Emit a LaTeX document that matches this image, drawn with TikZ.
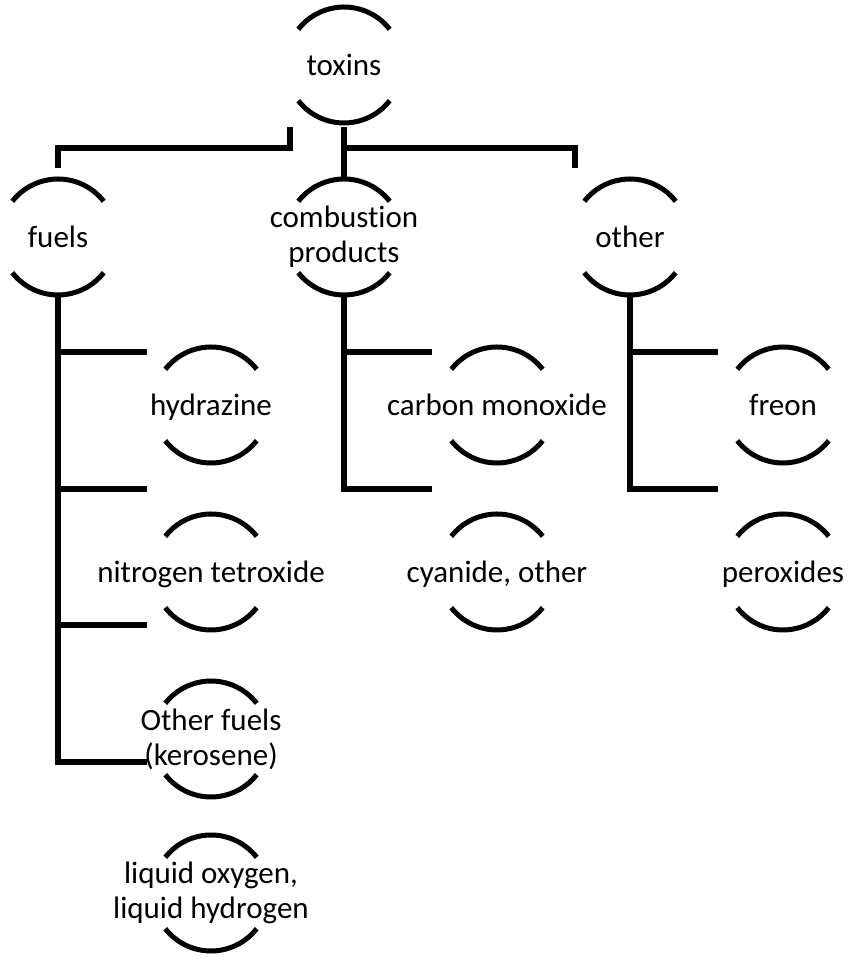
\documentclass[tikz,border=0pt]{standalone}
\usepackage{fontspec}
\setmainfont{Carlito}[Ligatures={NoCommon}]
\usetikzlibrary{calc}
\begin{document}
\begin{tikzpicture}[x=1pt,y=1pt,
  lbl/.style={inner sep=0pt, font=\fontsize{31}{35}\selectfont, text height=22pt, text depth=1pt},
  lbltwo/.style={inner sep=0pt, align=center, font=\fontsize{31}{35}\selectfont},
  conn/.style={line width=6.5pt, line join=miter, line cap=butt},
  arcl/.style={line width=5pt, line cap=butt}]
\useasboundingbox (0,0) rectangle (848,958);
% nodes (y = 958 - pixel y)
\node[lbl] (toxins) at (344,893) {toxins};
\node[lbl] (fuels) at (58,721) {fuels};
\node[lbltwo] (comb) at (344,721) {combustion\\products};
\node[lbl] (other) at (630,721) {other};
\node[lbl] (hydr) at (211,553) {hydrazine};
\node[lbl] (nitro) at (211,386) {nitrogen tetroxide};
\node[lbltwo] (ofuel) at (211,219) {Other fuels\\(kerosene)};
\node[lbltwo] (liquid) at (211,65) {liquid oxygen,\\liquid hydrogen};
\node[lbl] (carbon) at (497,553) {carbon monoxide};
\node[lbl] (cyan) at (497,386) {cyanide, other};
\node[lbl] (freon) at (783,553) {freon};
\node[lbl] (perox) at (783,386) {peroxides};
% arcs
\foreach \n in {toxins,fuels,comb,other,hydr,nitro,ofuel,liquid,carbon,cyan,freon,perox}{
  \draw[arcl] ($(\n)+(38:58)$) arc[start angle=38, end angle=142, radius=58];
  \draw[arcl] ($(\n)+(218:58)$) arc[start angle=218, end angle=322, radius=58];
}
% connectors from toxins
\coordinate (tl) at ($(toxins)+(-54,-62)$);
\coordinate (th) at ($(toxins)+(0,-83)$);
\draw[conn] ($(toxins)+(0,-62)$) -- ($(comb)+(0,58)$);
\draw[conn] (th) -| ($(other)+(-55,69)$);
\draw[conn] (tl) -- (tl |- th) -| ($(fuels)+(0,69)$);
% fuels branches
\coordinate (f1) at ($(fuels)+(89,-115)$);
\coordinate (f2) at ($(fuels)+(89,-252)$);
\coordinate (f3) at ($(fuels)+(89,-388)$);
\coordinate (f4) at ($(fuels)+(89,-525)$);
\draw[conn] ($(fuels)+(0,-58)$) |- (f4);
\draw[conn] (f1 -| fuels) -- (f1);
\draw[conn] (f2 -| fuels) -- (f2);
\draw[conn] (f3 -| fuels) -- (f3);
% combustion branches
\coordinate (c1) at ($(comb)+(88,-115)$);
\coordinate (c2) at ($(comb)+(88,-252)$);
\draw[conn] ($(comb)+(0,-58)$) |- (c2);
\draw[conn] (c1 -| comb) -- (c1);
% other branches
\coordinate (o1) at ($(other)+(88,-115)$);
\coordinate (o2) at ($(other)+(88,-252)$);
\draw[conn] ($(other)+(0,-58)$) |- (o2);
\draw[conn] (o1 -| other) -- (o1);
\end{tikzpicture}
\end{document}
